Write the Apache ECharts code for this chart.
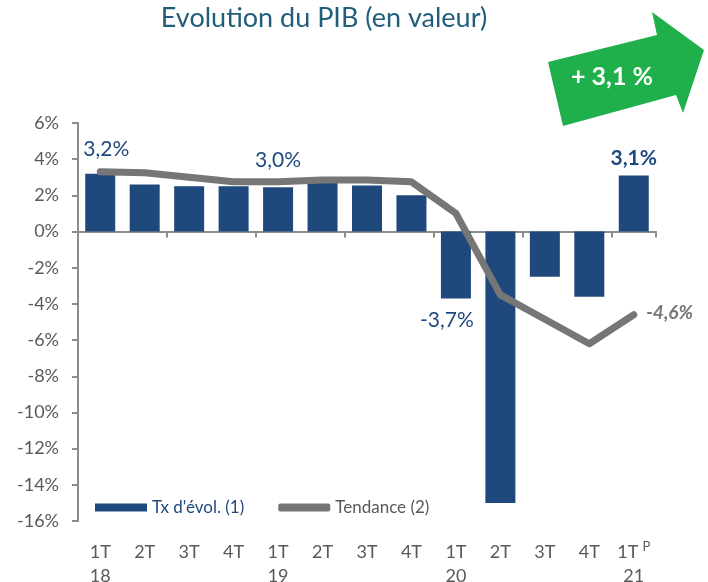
<!DOCTYPE html>
<html><head><meta charset="utf-8">
<script src="https://cdn.jsdelivr.net/npm/echarts@6/dist/echarts.min.js"></script>
<style>html,body{margin:0;padding:0;background:#fff}#c{width:708px;height:582px}</style>
</head><body><div id="c"></div>
<script>
var categories = ['1T\n18','2T\n','3T\n','4T\n','1T\n19','2T\n','3T\n','4T\n','1T\n20','2T\n','3T\n','4T\n','1T{p|P}\n21'];
var txEvol = [3.2, 2.6, 2.5, 2.5, 2.45, 2.95, 2.55, 2.0, -3.7, -15.0, -2.5, -3.6, 3.1];
var tendance = [3.3, 3.25, 3.0, 2.75, 2.75, 2.85, 2.85, 2.75, 1.0, -3.5, -4.85, -6.2, -4.6];
var barLabels = ['3,2%','','','','3,0%','','','','-3,7%','','','','3,1%'];
var lineLabels = ['','','','','','','','','','','','','-4,6%'];
var yTicks = {min: -16, max: 6, interval: 2};

var blue = '#1F497D', gray = '#767676', txt = '#595959';
var font = 'Lato, "Open Sans", sans-serif';
var barData = txEvol.map(function(v, i){
  var o = {value: v};
  if (barLabels[i]) {
    var lab = {show: true, formatter: barLabels[i], color: blue, fontSize: 21, fontFamily: font};
    if (i === 0) { lab.position = 'top'; lab.distance = 14; lab.offset = [6, 0]; }
    else if (i === 4) { lab.position = 'top'; lab.distance = 16; }
    else if (i === 8) { lab.position = 'bottom'; lab.distance = 11; lab.offset = [-9, 0]; }
    else { lab.position = 'top'; lab.distance = 7; lab.fontWeight = 'bold'; }
    o.label = lab;
  }
  return o;
});
var lineData = tendance.map(function(v, i){
  var o = {value: v};
  if (lineLabels[i]) o.label = {show: true, formatter: lineLabels[i], position: 'right', distance: 12, offset: [0, -2],
    color: gray, fontSize: 19, fontWeight: 'bold', fontStyle: 'italic', fontFamily: font};
  return o;
});

var chart = echarts.init(document.getElementById('c'), null, {renderer: 'canvas'});
chart.setOption({
  animation: false,
  backgroundColor: '#fff',
  title: {text: 'Evolution du PIB (en valeur)', left: 319, textAlign: 'center', top: 0,
    textStyle: {color: '#215E7C', fontSize: 27, fontWeight: 'normal', fontFamily: font}},
  grid: {left: 78, right: 52, top: 123, bottom: 61, containLabel: false, outerBoundsMode: 'none'},
  legend: {
    left: 91, top: 495, itemWidth: 52, itemHeight: 8, itemGap: 34,
    backgroundColor: '#fff', padding: [4, 4],
    textStyle: {fontSize: 17, fontFamily: font, color: txt},
    data: [
      {name: "Tx d'évol. (1)", icon: 'rect', textStyle: {color: blue}},
      {name: 'Tendance (2)', icon: 'roundRect', itemStyle: {color: gray}, textStyle: {color: txt}}
    ]
  },
  xAxis: [
    {type: 'category', data: categories, position: 'bottom',
     axisLine: {onZero: true, lineStyle: {color: '#8C8C8C', width: 2}},
     axisTick: {show: true, length: 6, lineStyle: {color: '#8C8C8C', width: 2}},
     axisLabel: {show: false}},
    {type: 'category', data: categories, position: 'bottom',
     axisLine: {show: false, onZero: false}, axisTick: {show: false},
     axisLabel: {show: true, interval: 0, color: txt, fontSize: 18, fontFamily: font, margin: 19, lineHeight: 24,
       rich: {p: {fontSize: 13, color: txt, fontFamily: font, verticalAlign: 'top', padding: [0, 0, 12, 4]}}}}
  ],
  yAxis: {type: 'value', min: yTicks.min, max: yTicks.max, interval: yTicks.interval,
    axisLine: {show: true, lineStyle: {color: '#8C8C8C', width: 2}},
    axisTick: {show: true, length: 6, lineStyle: {color: '#8C8C8C', width: 2}},
    splitLine: {show: false},
    axisLabel: {color: txt, fontSize: 18, fontFamily: font, margin: 19,
      formatter: function(v){ return v + '%'; }}},
  series: [
    {name: "Tx d'évol. (1)", type: 'bar', xAxisIndex: 0, data: barData, barWidth: 30,
     itemStyle: {color: blue}, z: 2},
    {name: 'Tendance (2)', type: 'line', xAxisIndex: 0, data: lineData, smooth: false,
     symbol: 'circle', symbolSize: 1, showAllSymbol: true,
     lineStyle: {color: gray, width: 7, cap: 'round', join: 'round'}, itemStyle: {color: gray}, z: 3}
  ],
  graphic: [
    {type: 'polygon', shape: {points: [[548,62],[657,35],[652,12],[704,50],[683,113],[676,95],[563,126]]},
     style: {fill: '#1FAF4B'}, z: 10},
    {type: 'text', left: 571, top: 64, z: 11,
     style: {text: '+ 3,1 %', fill: '#fff', font: 'bold 25px Lato, "Open Sans", sans-serif'}}
  ]
});
</script></body></html>
